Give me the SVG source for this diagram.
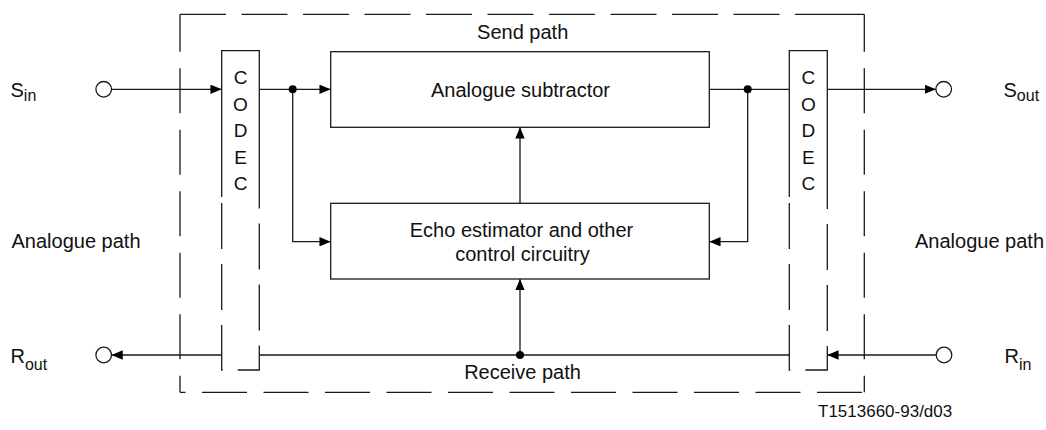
<svg xmlns="http://www.w3.org/2000/svg" width="1046" height="430" viewBox="0 0 1046 430">
<style>
  .ln{fill:none;stroke:#1a1a1a;stroke-width:1.3}
  .box{fill:#fff;stroke:#1a1a1a;stroke-width:1.3}
  .dash{fill:none;stroke:#1a1a1a;stroke-width:1.3;stroke-dasharray:46 15.5}
  .vdash{fill:none;stroke:#1a1a1a;stroke-width:1.3;stroke-dasharray:45 16.5;stroke-dashoffset:7.6}
  .bdash{fill:none;stroke:#1a1a1a;stroke-width:1.3;stroke-dasharray:45 16.5;stroke-dashoffset:39.5}
  .cdash{fill:none;stroke:#1a1a1a;stroke-width:1.3;stroke-dasharray:46 15}
  .term{fill:#fff;stroke:#1a1a1a;stroke-width:1.3}
  .dot{fill:#000}
  text{font-family:"Liberation Sans",Arial,Helvetica,sans-serif;fill:#111;font-size:20px}
  .sub{font-size:16px}
  .mid{text-anchor:middle}
  .codec{font-size:19px;text-anchor:middle}
</style>
<defs>
  <marker id="arr" viewBox="0 0 12 10" refX="12" refY="5" markerWidth="11.5" markerHeight="9.4" markerUnits="userSpaceOnUse" orient="auto">
    <path d="M0,0 L12,5 L0,10 z" fill="#000"/>
  </marker>
</defs>

<g id="boundary">
  <line class="dash" x1="180" y1="14.3" x2="795" y2="14.3"/>
  <line class="ln" x1="795" y1="14.3" x2="864.3" y2="14.3"/>
  <line class="vdash" x1="180" y1="14.3" x2="180" y2="392.3"/>
  <line class="vdash" x1="864.3" y1="14.3" x2="864.3" y2="392.3"/>
  <line class="bdash" x1="180" y1="392.3" x2="864.3" y2="392.3"/>
  <text class="mid" x="522.7" y="39">Send path</text>
  <text class="mid" x="522.5" y="379">Receive path</text>
</g>

<g id="codec-left">
  <path class="ln" d="M221.7,197 V50.7 H259.3 V205"/>
  <path class="cdash" d="M221.7,203 V370 H259.3 V205"/>
  <text class="codec" x="240.5" y="84">C</text>
  <text class="codec" x="240.5" y="110.5">O</text>
  <text class="codec" x="240.5" y="137">D</text>
  <text class="codec" x="240.5" y="163.5">E</text>
  <text class="codec" x="240.5" y="190">C</text>
</g>

<g id="codec-right">
  <path class="ln" d="M789.3,197 V50.7 H827.3 V205"/>
  <path class="cdash" d="M789.3,203 V370 H827.3 V205"/>
  <text class="codec" x="808.3" y="84">C</text>
  <text class="codec" x="808.3" y="110.5">O</text>
  <text class="codec" x="808.3" y="137">D</text>
  <text class="codec" x="808.3" y="163.5">E</text>
  <text class="codec" x="808.3" y="190">C</text>
</g>

<g id="subtractor">
  <rect class="box" x="330.7" y="51.7" width="378.6" height="75.6"/>
  <text class="mid" x="520.5" y="97.3">Analogue subtractor</text>
</g>

<g id="echo-estimator">
  <rect class="box" x="330.7" y="203.3" width="378.6" height="75.7"/>
  <text class="mid" x="521.5" y="237.3">Echo estimator and other</text>
  <text class="mid" x="522.5" y="260.7">control circuitry</text>
</g>

<g id="connectors">
  <path class="ln" d="M111.7,89.3 H221.7" marker-end="url(#arr)"/>
  <path class="ln" d="M259.3,89.3 H330.7" marker-end="url(#arr)"/>
  <path class="ln" d="M292.7,89.3 V241.7 H330.7" marker-end="url(#arr)"/>
  <path class="ln" d="M709.3,89.3 H789.3"/>
  <path class="ln" d="M747.7,89.3 V241.7 H709.3" marker-end="url(#arr)"/>
  <path class="ln" d="M827.3,89.3 H935.9" marker-end="url(#arr)"/>
  <path class="ln" d="M520,203.3 V127.3" marker-end="url(#arr)"/>
  <path class="ln" d="M520,355 V279" marker-end="url(#arr)"/>
  <path class="ln" d="M221.7,355 H111.5" marker-end="url(#arr)"/>
  <path class="ln" d="M789.3,355 H259.3"/>
  <path class="ln" d="M936.2,355 H827.3" marker-end="url(#arr)"/>
  <circle class="dot" cx="292.7" cy="89.3" r="4"/>
  <circle class="dot" cx="747.7" cy="89.3" r="4"/>
  <circle class="dot" cx="520" cy="355" r="4"/>
</g>

<g id="s-in">
  <circle class="term" cx="103.7" cy="89.3" r="7.8"/>
  <text x="10.5" y="96.7">S<tspan class="sub" dy="4.6">in</tspan></text>
</g>
<g id="s-out">
  <circle class="term" cx="943.7" cy="89.3" r="7.8"/>
  <text x="1003.5" y="96.7">S<tspan class="sub" dy="4.6">out</tspan></text>
</g>
<g id="r-out">
  <circle class="term" cx="103.7" cy="355" r="7.8"/>
  <text x="10.5" y="363.3">R<tspan class="sub" dy="6.5">out</tspan></text>
</g>
<g id="r-in">
  <circle class="term" cx="944" cy="355" r="7.8"/>
  <text x="1004.5" y="363.3">R<tspan class="sub" dy="6.5">in</tspan></text>
</g>

<g id="labels">
  <text x="11.5" y="248.3">Analogue path</text>
  <text x="915" y="248.3">Analogue path</text>
  <text x="818" y="416.7" style="font-size:17px">T1513660-93/d03</text>
</g>
</svg>
